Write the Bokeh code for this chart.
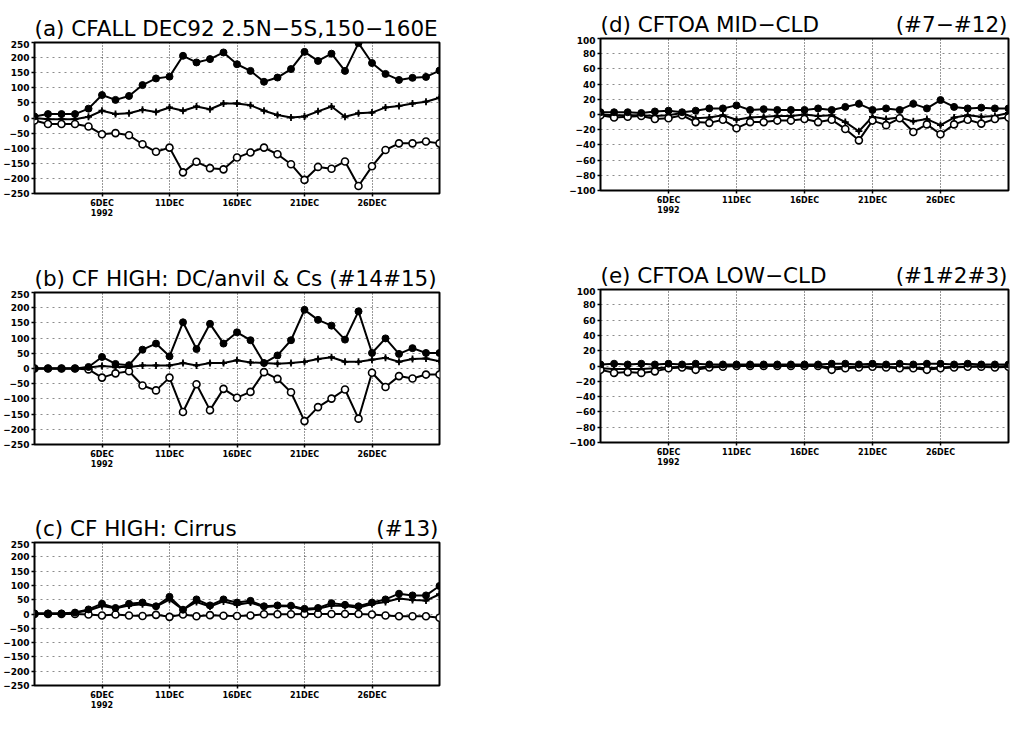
from bokeh.plotting import figure
from bokeh.models import Range1d, FixedTicker, ColumnDataSource
from bokeh.layouts import row, column
from bokeh.core.properties import value
from bokeh.embed import file_html
from bokeh.resources import INLINE

days = list(range(1, 32))
xtick_days = [6, 11, 16, 21, 26]
xtick_labels = ["6DEC\n1992", "11DEC", "16DEC", "21DEC", "26DEC"]

titles_left = ["(a) CFALL DEC92 2.5N\u22125S,150\u2212160E",
               "(b) CF HIGH: DC/anvil & Cs (#14#15)",
               "(c) CF HIGH: Cirrus",
               "(d) CFTOA MID\u2212CLD",
               "(e) CFTOA LOW\u2212CLD"]
titles_right = ["", "", "(#13)", "(#7\u2212#12)", "(#1#2#3)"]

a_filled = [5, 13, 13, 13, 31, 76, 60, 73, 109, 131, 137, 206, 184, 195, 217, 178, 156, 120, 134, 162, 219, 189, 213, 156, 248, 182, 146, 126, 133, 136, 157]
a_cross = [0, -4, -4, -4, 4, 24, 13, 16, 27, 20, 35, 24, 38, 29, 48, 48, 42, 24, 10, 2, 5, 22, 38, 4, 16, 18, 35, 40, 48, 54, 67]
a_open = [-8, -20, -20, -20, -28, -54, -50, -57, -87, -112, -98, -180, -145, -166, -170, -131, -114, -98, -120, -153, -205, -162, -168, -144, -225, -160, -106, -84, -84, -78, -84]

b_filled = [0, 0, 0, 0, 5, 38, 15, 11, 62, 82, 40, 152, 64, 147, 82, 119, 93, 18, 43, 93, 193, 160, 141, 95, 188, 51, 99, 48, 67, 51, 51]
b_cross = [0, 0, 0, 0, 3, 8, 5, 5, 10, 10, 10, 18, 10, 18, 18, 27, 20, 18, 16, 18, 22, 31, 37, 22, 22, 29, 35, 22, 31, 33, 24]
b_open = [0, 0, 0, 0, -3, -30, -16, -9, -56, -72, -30, -143, -52, -137, -67, -96, -77, -12, -34, -78, -173, -127, -99, -69, -165, -14, -61, -25, -33, -20, -20]

c_filled = [2, 2, 2, 5, 16, 36, 21, 36, 40, 27, 60, 15, 51, 30, 51, 40, 46, 27, 30, 29, 18, 21, 38, 32, 27, 40, 51, 71, 65, 65, 98]
c_cross = [2, 2, 2, 4, 12, 28, 20, 30, 34, 26, 50, 15, 42, 26, 44, 32, 40, 24, 28, 27, 14, 18, 30, 28, 22, 35, 42, 54, 49, 47, 69]
c_open = [0, 0, 0, 0, -2, -5, -2, -5, -7, -3, -10, -2, -8, -4, -6, -7, -5, -1, -1, -1, 0, 0, 0, 0, 0, -2, -5, -8, -8, -8, -13]

d_filled = [3, 3, 3, 2, 4, 5, 3, 5, 8, 8, 12, 6, 7, 6, 6, 6, 8, 6, 10, 14, 6, 8, 6, 14, 8, 19, 10, 8, 9, 8, 8]
d_cross = [0, -1, -1, -1, -2, -1, 2, -5, -4, -1, -7, -4, -3, -2, -2, 0, -2, -1, -10, -22, -3, -6, -4, -9, -6, -14, -4, -1, -3, -2, 2]
d_open = [-1, -4, -3, -2, -6, -5, -1, -10, -11, -7, -18, -10, -10, -8, -8, -6, -10, -7, -19, -34, -8, -14, -5, -23, -13, -26, -13, -7, -12, -6, -4]

e_filled = [2, 3, 2, 3, 2, 3, 2, 3, 2, 2, 2, 2, 2, 2, 2, 2, 2, 3, 3, 2, 3, 2, 3, 2, 3, 3, 2, 3, 2, 2, 2]
e_cross = [-3, -4, -4, -4, -3, -2, -1, -2, -1, 0, 0, 0, 0, 0, 0, 0, 0, -2, -1, -1, 0, -1, -2, -2, -3, -2, -1, -1, 0, -1, 0]
e_open = [-5, -9, -8, -9, -7, -3, -2, -5, -2, -1, 0, 0, 0, 0, 0, 0, 0, -5, -3, -2, -1, -2, -3, -3, -5, -3, -2, -1, -1, -2, -1]

TITLE_FONT = "DejaVu Sans"
TICK_FONT = "DejaVu Sans"


def header(left_text, right_text, width, height, mbl, mbr, base_y):
    fw = width - mbl - mbr
    h = figure(width=width, height=height, x_range=Range1d(0, fw),
               y_range=Range1d(0, height), x_axis_location=None,
               y_axis_location=None, min_border_left=mbl,
               min_border_right=mbr, min_border_top=0, min_border_bottom=0,
               toolbar_location=None, output_backend="svg")
    h.outline_line_color = None
    h.grid.visible = False
    h.text(x=[0], y=[base_y], text=[left_text], text_align="left",
           text_baseline="alphabetic", text_font=value(TITLE_FONT),
           text_font_size="21.5px", text_color="black")
    if right_text:
        h.text(x=[fw - 1], y=[base_y], text=[right_text], text_align="right",
               text_baseline="alphabetic", text_font=value(TITLE_FONT),
               text_font_size="21.5px", text_color="black")
    return h


def panel(filled, cross, opn, ymax, ystep, width, height, mbl, mbr, mbt, mbb):
    p = figure(width=width, height=height, x_range=Range1d(1, 31),
               y_range=Range1d(-ymax, ymax), output_backend="svg",
               toolbar_location=None, min_border_left=mbl,
               min_border_right=mbr, min_border_top=mbt,
               min_border_bottom=mbb)
    p.outline_line_color = "black"
    p.outline_line_width = 2
    p.outline_line_alpha = 1

    yt = list(range(-ymax, ymax + 1, ystep))
    p.yaxis.ticker = FixedTicker(ticks=yt)
    p.xaxis.ticker = FixedTicker(ticks=xtick_days)
    p.xaxis.major_label_overrides = dict(zip(xtick_days, xtick_labels))
    for ax in (p.xaxis, p.yaxis):
        ax.axis_line_color = None
        ax.major_tick_line_color = "black"
        ax.major_tick_line_width = 1.5
        ax.major_tick_out = 3
        ax.major_tick_in = 0
        ax.minor_tick_line_color = None
        ax.major_label_text_font = TICK_FONT
        ax.major_label_text_font_style = "bold"
        ax.major_label_text_color = "black"
        ax.major_label_standoff = 2
    p.xaxis.major_label_text_font_size = "8px"
    p.yaxis.major_label_text_font_size = "9px"
    p.ygrid.ticker = FixedTicker(ticks=yt)
    p.ygrid.grid_line_color = "black"
    p.ygrid.grid_line_alpha = 0.45
    p.ygrid.grid_line_dash = "2 4"
    p.xgrid.ticker = FixedTicker(ticks=xtick_days)
    p.xgrid.grid_line_color = "black"
    p.xgrid.grid_line_alpha = 0.8
    p.xgrid.grid_line_dash = "1 2"

    src = ColumnDataSource(dict(x=days, f=filled, c=cross, o=opn))
    for col in ("c", "o", "f"):
        p.line("x", col, source=src, line_color="black", line_width=2)
    p.scatter("x", "c", source=src, marker="cross", size=7, line_color="black",
              line_width=1.8)
    p.scatter("x", "c", source=src, marker="circle", size=3, fill_color="black",
              line_color="black")
    p.scatter("x", "o", source=src, marker="circle", size=7, fill_color="white",
              line_color="black", line_width=1.6)
    p.scatter("x", "f", source=src, marker="circle", size=7, fill_color="black",
              line_color="black")
    return p


LW, RW = 560, 450
# left column
ha = header(titles_left[0], titles_right[0], LW, 40, 32, 121, 12)
pa = panel(a_filled, a_cross, a_open, 250, 50, LW, 210, 32, 121, 2, 57)
hb = header(titles_left[1], titles_right[1], LW, 40, 32, 121, 12)
pb = panel(b_filled, b_cross, b_open, 250, 50, LW, 212, 32, 121, 2, 58)
hc = header(titles_left[2], titles_right[2], LW, 38, 32, 121, 12)
pc = panel(c_filled, c_cross, c_open, 250, 50, LW, 173, 32, 121, 2, 23)
# right column
hd = header(titles_left[3], titles_right[3], RW, 36, 40, 2, 12)
pd = panel(d_filled, d_cross, d_open, 100, 20, RW, 213, 40, 2, 2, 59)
he = header(titles_left[4], titles_right[4], RW, 38, 40, 2, 12)
pe = panel(e_filled, e_cross, e_open, 100, 20, RW, 185, 40, 2, 2, 30)

layout = row(column(ha, pa, hb, pb, hc, pc, spacing=0),
             column(hd, pd, he, pe, spacing=0), spacing=0)

with open("out.html", "w") as fh:
    fh.write(file_html(layout, INLINE))
